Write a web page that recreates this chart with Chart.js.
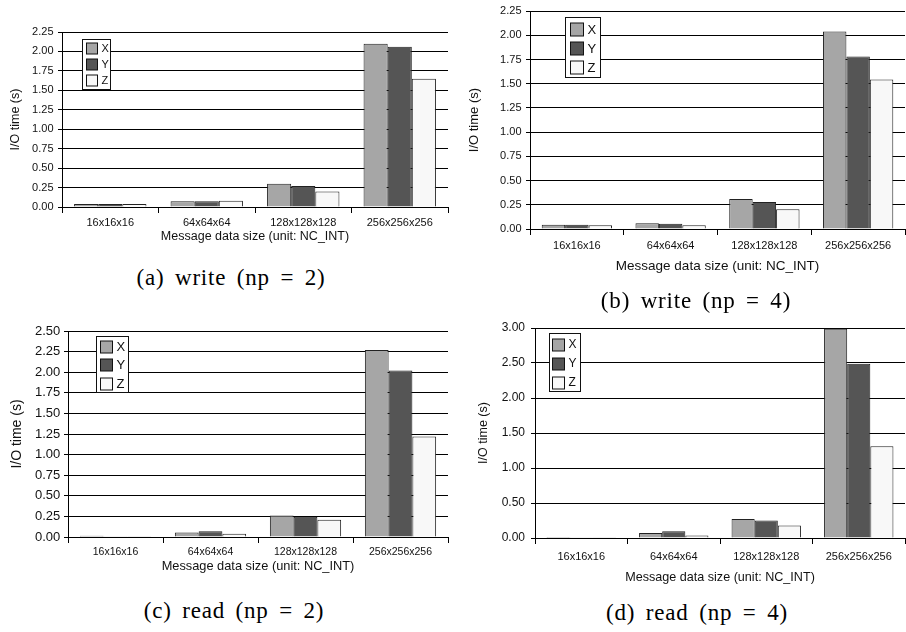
<!DOCTYPE html>
<html>
<head>
<meta charset="utf-8">
<script src="https://cdn.jsdelivr.net/npm/chart.js@4.4.1/dist/chart.umd.min.js"></script>
<style>
  html, body { margin: 0; padding: 0; background: #ffffff; }
  body { width: 906px; height: 632px; position: relative; overflow: hidden; }
  .panel { position: absolute; }
  .panel canvas { display: block; }
  .cap { position: absolute; transform: translate(-50%, -50%); white-space: nowrap;
         font-family: 'Liberation Serif', 'DejaVu Serif', serif; font-size: 23px; color: #000;
         word-spacing: 4px; letter-spacing: 0.8px; }
</style>
</head>
<body>
<div class="panel" id="pa" style="left:0px;top:0px;width:453px;height:250px;"><canvas id="ca"></canvas></div>
<div class="panel" id="pb" style="left:453px;top:0px;width:453px;height:280px;"><canvas id="cb"></canvas></div>
<div class="panel" id="pc" style="left:0px;top:310px;width:453px;height:270px;"><canvas id="cc"></canvas></div>
<div class="panel" id="pd" style="left:453px;top:310px;width:453px;height:280px;"><canvas id="cd"></canvas></div>
<div class="cap" style="left:231px;top:278px;">(a) write (np = 2)</div>
<div class="cap" style="left:696px;top:301px;">(b) write (np = 4)</div>
<div class="cap" style="left:234px;top:611px;">(c) read (np = 2)</div>
<div class="cap" style="left:697px;top:613px;">(d) read (np = 4)</div>
<script>
// ---- data ----
const categories = ['16x16x16', '64x64x64', '128x128x128', '256x256x256'];
const seriesNames = ['X', 'Y', 'Z'];
const xAxisTitle = 'Message data size (unit: NC_INT)';
const yAxisTitle = 'I/O time (s)';

const writeNp2X = [0.04, 0.075, 0.30, 2.10];
const writeNp2Y = [0.04, 0.075, 0.27, 2.06];
const writeNp2Z = [0.04, 0.08, 0.20, 1.65];

const writeNp4X = [0.045, 0.06, 0.31, 2.04];
const writeNp4Y = [0.045, 0.055, 0.28, 1.78];
const writeNp4Z = [0.04, 0.04, 0.205, 1.545];

const readNp2X = [0.015, 0.055, 0.26, 2.27];
const readNp2Y = [0.01, 0.07, 0.245, 2.02];
const readNp2Z = [0.008, 0.04, 0.21, 1.22];

const readNp4X = [0.015, 0.07, 0.27, 2.99];
const readNp4Y = [0.012, 0.095, 0.25, 2.49];
const readNp4Z = [0.01, 0.035, 0.18, 1.31];

// ---- styles ----
const fills = ['#a6a6a6', '#555555', '#f8f8f8'];
const FONT = "'Liberation Sans', Arial, sans-serif";

const insideLegend = {
  id: 'insideLegend',
  afterDraw(chart, args, o) {
    const ctx = chart.ctx, ca = chart.chartArea;
    const bx = Math.round(ca.left + o.x) + 0.5, by = Math.round(ca.top + o.y) + 0.5;
    ctx.save();
    ctx.fillStyle = '#ffffff';
    ctx.strokeStyle = '#111111';
    ctx.lineWidth = 1;
    ctx.fillRect(bx, by, o.w, o.h);
    ctx.strokeRect(bx, by, o.w, o.h);
    ctx.font = o.font + 'px ' + FONT;
    ctx.textBaseline = 'middle';
    ctx.textAlign = 'left';
    chart.data.datasets.forEach((ds, i) => {
      const cy = by + o.first + i * o.gap;
      const sx = bx + o.swX;
      ctx.fillStyle = ds.backgroundColor;
      ctx.fillRect(sx, Math.round(cy - o.sw / 2), o.sw, o.sw);
      ctx.strokeStyle = '#111111';
      ctx.strokeRect(sx, Math.round(cy - o.sw / 2), o.sw, o.sw);
      ctx.fillStyle = '#111111';
      ctx.fillText(ds.label, sx + o.sw + o.textGap, cy + 0.5);
    });
    ctx.restore();
  }
};

function makeChart(id, sx, sy, sz, cfg) {
  const datasets = [sx, sy, sz].map((d, i) => ({
    label: seriesNames[i],
    data: d,
    backgroundColor: fills[i],
    borderColor: '#222222',
    borderWidth: 1,
    categoryPercentage: 0.75,
    barPercentage: 1.0
  }));
  return new Chart(document.getElementById(id), {
    type: 'bar',
    data: { labels: categories, datasets },
    options: {
      responsive: true,
      maintainAspectRatio: false,
      animation: false,
      devicePixelRatio: 1,
      layout: { padding: { left: 0, top: cfg.top, right: cfg.right, bottom: 0 } },
      plugins: {
        legend: { display: false },
        tooltip: { enabled: false },
        insideLegend: cfg.legend
      },
      scales: {
        x: {
          afterFit(s) { s.height = cfg.xH; },
          grid: { offset: true, drawOnChartArea: false, drawTicks: true, tickLength: 6, color: '#000000', lineWidth: 1 },
          border: { display: true, color: '#000000', width: 1 },
          ticks: { color: '#111111', font: { family: FONT, size: cfg.catFont }, padding: cfg.catPad, maxRotation: 0, autoSkip: false },
          title: { display: true, text: xAxisTitle, color: '#111111', font: { family: FONT, size: cfg.xTitleFont }, padding: { top: 0, bottom: cfg.xTitlePad } }
        },
        y: {
          afterFit(s) { s.width = cfg.yW; },
          min: 0, max: cfg.max,
          ticks: { stepSize: cfg.step, color: '#111111', font: { family: FONT, size: cfg.tickFont }, padding: cfg.tickPad,
                   callback: v => Number(v).toFixed(2) },
          grid: { color: '#000000', lineWidth: 1, drawTicks: true, tickLength: 4 },
          border: { display: true, color: '#000000', width: 1 },
          title: { display: true, text: yAxisTitle, color: '#111111', font: { family: FONT, size: cfg.yTitleFont }, padding: { top: cfg.yTitlePad, bottom: 0 } }
        }
      }
    },
    plugins: [insideLegend]
  });
}

makeChart('ca', writeNp2X, writeNp2Y, writeNp2Z, {
  top: 32, right: 5, xH: 43, yW: 62, max: 2.25, step: 0.25,
  catFont: 11, catPad: 3, xTitleFont: 12.5, xTitlePad: 5.5,
  tickFont: 11, tickPad: 4.5, yTitleFont: 12.5, yTitlePad: 8,
  legend: { x: 20, y: 7, w: 28, h: 50, sw: 11, gap: 16, first: 9, font: 11, swX: 4, textGap: 4 }
});
makeChart('cb', writeNp4X, writeNp4Y, writeNp4Z, {
  top: 9, right: 1, xH: 51, yW: 77, max: 2.25, step: 0.25,
  catFont: 11, catPad: 4.4, xTitleFont: 13.5, xTitlePad: 6,
  tickFont: 11, tickPad: 4.5, yTitleFont: 13, yTitlePad: 14,
  legend: { x: 35, y: 6, w: 35, h: 60, sw: 13, gap: 19, first: 12, font: 13, swX: 5, textGap: 4 }
});
makeChart('cc', readNp2X, readNp2Y, readNp2Z, {
  top: 21, right: 5, xH: 43, yW: 68, max: 2.5, step: 0.25,
  catFont: 10.5, catPad: 2.7, xTitleFont: 12.8, xTitlePad: 6.3,
  tickFont: 13, tickPad: 3.7, yTitleFont: 14, yTitlePad: 9,
  legend: { x: 28, y: 5, w: 32, h: 56, sw: 12, gap: 18.5, first: 10, font: 13, swX: 4, textGap: 4 }
});
makeChart('cd', readNp4X, readNp4Y, readNp4Z, {
  top: 18, right: 1, xH: 52, yW: 82, max: 3.0, step: 0.5,
  catFont: 11, catPad: 5.9, xTitleFont: 12.6, xTitlePad: 5,
  tickFont: 12, tickPad: 6, yTitleFont: 12.5, yTitlePad: 23,
  legend: { x: 14, y: 5, w: 31, h: 58, sw: 12, gap: 19, first: 11, font: 12, swX: 3, textGap: 4 }
});
</script>
</body>
</html>
